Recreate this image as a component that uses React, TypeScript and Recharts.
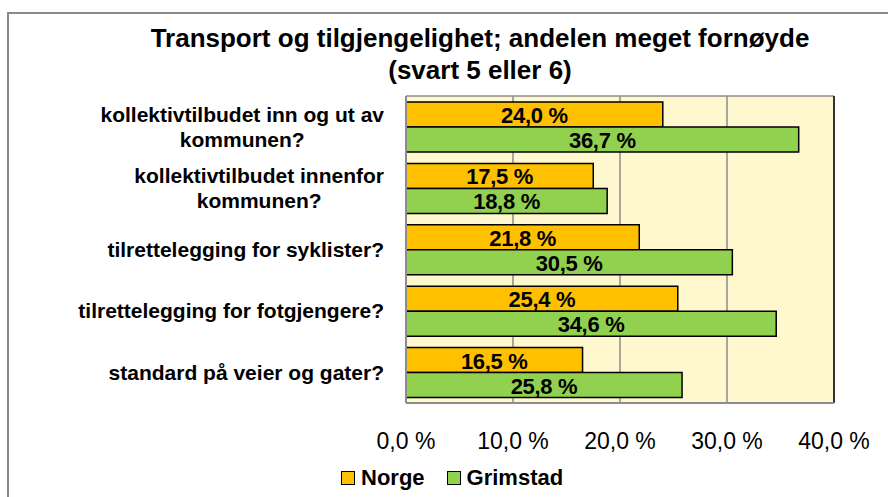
import { BarChart, Bar, XAxis, YAxis, CartesianGrid, Legend, LabelList, ReferenceLine } from 'recharts';

const categories = [
  'kollektivtilbudet inn og ut av\nkommunen?',
  'kollektivtilbudet innenfor\nkommunen?',
  'tilrettelegging for syklister?',
  'tilrettelegging for fotgjengere?',
  'standard på veier og gater?',
];
const norge = [24.0, 17.5, 21.8, 25.4, 16.5];
const grimstad = [36.7, 18.8, 30.5, 34.6, 25.8];
const xTicks = [0, 10, 20, 30, 40];

const FONT = '"Liberation Sans", Arial, sans-serif';
const ORANGE = '#FFC000';
const GREEN = '#92D050';

const data = categories.map((name, i) => ({ name, Norge: norge[i], Grimstad: grimstad[i] }));

const pct = (v: number) => v.toFixed(1).replace('.', ',') + ' %';

let ctx: CanvasRenderingContext2D | null = null;
const measure = (s: string) => {
  if (!ctx) ctx = document.createElement('canvas').getContext('2d');
  if (!ctx) return s.length * 11;
  ctx.font = `700 21px ${FONT}`;
  return ctx.measureText(s).width;
};

// category labels: block right aligned, lines centred inside it
const CategoryTick = (props: any) => {
  const { y, payload } = props;
  const lines: string[] = String(payload.value).split('\n');
  const w = Math.max(...lines.map(measure));
  const cx = 384 - w / 2;
  const lh = 25;
  const y0 = y - ((lines.length - 1) * lh) / 2;
  return (
    <text x={cx} y={y0} textAnchor="middle" fontFamily={FONT} fontSize={21} fontWeight="bold" fill="#000">
      {lines.map((l, i) => (
        <tspan key={i} x={cx} y={y0 + i * lh} dominantBaseline="central">{l}</tspan>
      ))}
    </text>
  );
};

const ValueTick = (props: any) => {
  const { x, y, payload } = props;
  return (
    <text x={x} y={y} dy={38} textAnchor="middle" fontFamily={FONT} fontSize={23} fill="#000">
      {pct(payload.value)}
    </text>
  );
};

const BarLabel = (props: any) => {
  const { x, y, width, height, value } = props;
  return (
    <text x={x + width / 2} y={y + height / 2 + 1} textAnchor="middle" dominantBaseline="central"
      fontFamily={FONT} fontSize={22} fontWeight="bold" fill="#000" letterSpacing={-0.3}>
      {pct(value)}
    </text>
  );
};

const LegendBox = () => (
  <div style={{ display: 'flex', alignItems: 'center', fontFamily: FONT, fontSize: 22, fontWeight: 'bold', color: '#000' }}>
    {[['Norge', ORANGE], ['Grimstad', GREEN]].map(([label, c], i) => (
      <div key={label} style={{ display: 'flex', alignItems: 'center', marginLeft: i ? 22 : 0 }}>
        <div style={{ width: 12, height: 12, background: c, border: '1.5px solid #000', marginRight: 6 }} />
        <span>{label}</span>
      </div>
    ))}
  </div>
);

export default function App() {
  return (
    <div style={{ position: 'absolute', left: 0, top: 0, width: 888, height: 497, background: '#fff', overflow: 'hidden' }}>
      <div style={{ position: 'absolute', left: 7, top: 12, width: 900, height: 520, border: '2px solid #8a8a8a', boxSizing: 'border-box' }} />
      <div style={{ position: 'absolute', left: 80, top: 22, width: 800, textAlign: 'center', fontFamily: FONT, fontSize: 26, fontWeight: 'bold', lineHeight: '32px', color: '#000' }}>
        Transport og tilgjengelighet; andelen meget fornøyde
        <br />
        (svart 5 eller 6)
      </div>
      <div style={{ position: 'absolute', left: 0, top: 0 }}>
        <BarChart
          width={888}
          height={497}
          data={data}
          layout="vertical"
          margin={{ top: 96, right: 54, left: 0, bottom: 34 }}
          barSize={25}
          barGap={0}
        >
          <CartesianGrid
            horizontal={true}
            vertical={true}
            fill="#FFF7CD"
            stroke="#8c8c8c"
            strokeWidth={1.5}
            horizontalCoordinatesGenerator={({ offset }: any) => [offset.top, offset.top + offset.height]}
          />
          <XAxis
            type="number"
            domain={[0, 40]}
            ticks={xTicks}
            tick={<ValueTick />}
            tickLine={false}
            axisLine={{ stroke: '#8c8c8c', strokeWidth: 2 }}
            height={60}
            interval={0}
          />
          <YAxis
            type="category"
            dataKey="name"
            width={406}
            tick={<CategoryTick />}
            tickLine={false}
            axisLine={{ stroke: '#8c8c8c', strokeWidth: 2 }}
            interval={0}
          />
          <ReferenceLine x={40} stroke="#333" strokeWidth={2} />
          <Legend
            layout="horizontal"
            verticalAlign="middle"
            align="center"
            wrapperStyle={{ left: 341, top: 465, width: 'auto' }}
            content={() => <LegendBox />}
          />
          <Bar dataKey="Norge" fill={ORANGE} stroke="#000" strokeWidth={1.5} isAnimationActive={false}>
            <LabelList dataKey="Norge" content={<BarLabel />} />
          </Bar>
          <Bar dataKey="Grimstad" fill={GREEN} stroke="#000" strokeWidth={1.5} isAnimationActive={false}>
            <LabelList dataKey="Grimstad" content={<BarLabel />} />
          </Bar>
        </BarChart>
      </div>
    </div>
  );
}
